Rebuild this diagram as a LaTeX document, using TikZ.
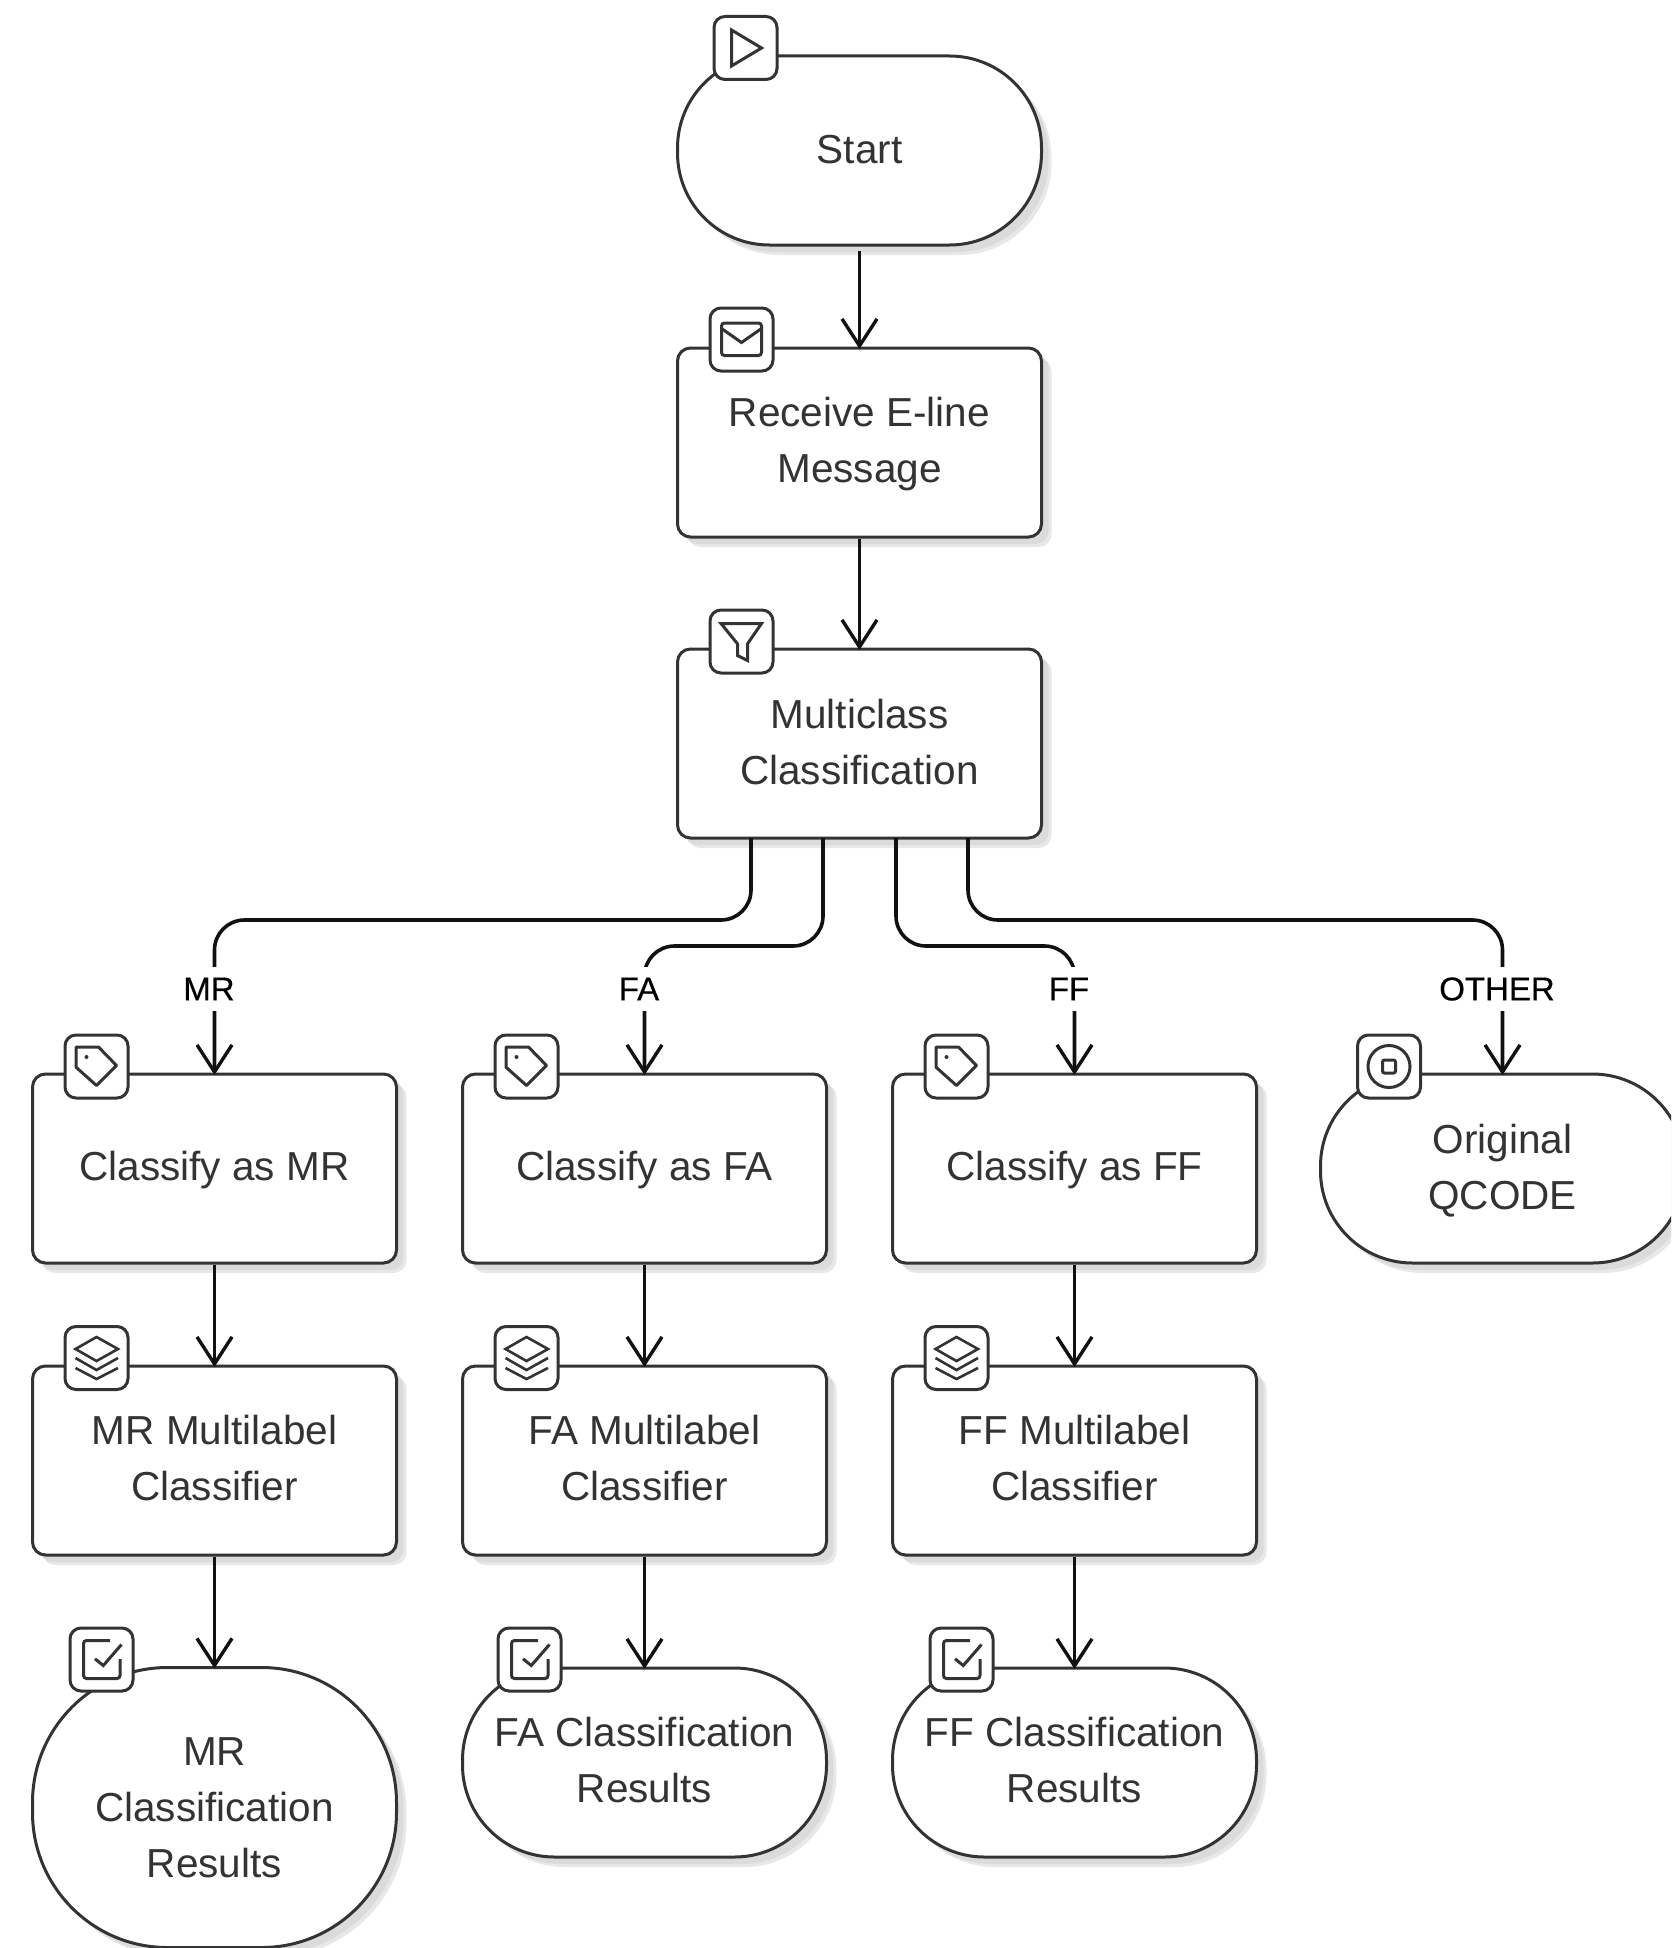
\documentclass[tikz,border=0pt]{standalone}
\usepackage{fontspec}
\setmainfont{Liberation Sans}
\newfontfamily\edgefont[FakeBold=0.4]{Liberation Sans}
\usetikzlibrary{arrows.meta,shadows,positioning}
\definecolor{ink}{HTML}{333333}
\definecolor{wire}{HTML}{111111}
\newcommand{\nudge}[2]{\raisebox{-#1pt}[\height][\depth]{#2}}
\tikzset{
  softshadow/.style={
    drop shadow={shadow xshift=10pt,shadow yshift=-10pt,fill=black!9,opacity=1},
    drop shadow={shadow xshift=7pt,shadow yshift=-7pt,fill=black!14,opacity=1}},
  card/.style={draw=ink,line width=3pt,fill=white,text=ink,softshadow,
    minimum width=364pt,minimum height=189pt,inner sep=0pt,align=center,
    font=\fontsize{40.5}{56}\selectfont},
  taskbox/.style={card,rounded corners=13pt},
  pill/.style={card,rounded corners=92pt},
  blob/.style={card,rounded corners=135pt,minimum height=280pt},
  iconbox/.style={draw=ink,line width=3pt,fill=white,rounded corners=11pt,
    minimum size=63pt,inner sep=0pt},
  glyph/.style={draw=ink,line width=3pt,line join=miter},
  flow/.style={draw=wire,line width=3.6pt,rounded corners=30pt,shorten >=-2.5pt,
    -{Straight Barb[length=27pt,width=35pt,line width=3.4pt]}},
  flowlabel/.style={fill=white,text=black,inner sep=0pt,minimum height=44pt,minimum width=20pt,
    font=\edgefont\fontsize{33}{36}\selectfont},
  iconplay/.pic={\draw[glyph] (-14,-18) -- (16,0) -- (-14,18) -- cycle;},
  iconmail/.pic={\draw[glyph,rounded corners=3pt] (-20,-16.5) rectangle (20,16);
    \draw[glyph] (-20,-11) -- (0,3) -- (20,-11);},
  iconfunnel/.pic={\draw[glyph] (-20.5,-18) -- (20,-18) -- (6,2.3) -- (6,19) -- (-4,14) -- (-4,2.3) -- cycle;},
  icontag/.pic={\draw[glyph,line join=round] (-20.5,-19.5) -- (2,-19.5) -- (20,-1) -- (0,19) -- (-20.5,0.7) -- cycle;
    \fill[ink] (-10,-9.5) circle (2pt);},
  iconlayers/.pic={\draw[glyph,line width=2.6pt] (0,-21) -- (21.5,-9) -- (0,3) -- (-21,-9) -- cycle;
    \draw[glyph,line width=2.6pt] (-21,0) -- (0,12) -- (21.5,0);
    \draw[glyph,line width=2.6pt] (-21,10) -- (0,21) -- (21.5,10);},
  iconcheck/.pic={\draw[glyph,rounded corners=3pt] (8.5,-19) -- (-18,-19) -- (-18,19) -- (18.5,19) -- (18.5,-0.5);
    \draw[glyph] (-6.5,-0.7) -- (1.8,6) -- (20,-15);},
  iconstop/.pic={\draw[glyph] (0,0) circle (21pt);
    \draw[glyph,rounded corners=2pt] (-6.5,-6.5) rectangle (6.5,6.5);},
}
\begin{document}
\begin{tikzpicture}[x=1pt,y=-1pt]
\useasboundingbox (0,0) rectangle (1671,1948);
\clip (0,0) rectangle (1671,1948);
% nodes
\node[pill] (start) at (859.5,150.5) {\nudge{-1}{Start}};
\node[taskbox] (recv) at (859.5,442.5) {\nudge{1.5}{Receive E-line}\\\nudge{1.5}{Message}};
\node[taskbox] (mc) at (859.5,743.5) {\nudge{-1.5}{Multiclass}\\\nudge{-1.5}{Classification}};
\node[taskbox] (cmr) at (214.5,1168.5) {\nudge{2}{Classify as MR}};
\node[taskbox] (cfa) at (644.5,1168.5) {\nudge{2}{Classify as FA}};
\node[taskbox] (cff) at (1074.5,1168.5) {\nudge{2}{Classify as FF}};
\node[pill] (qc) at (1502.5,1168.5) {\nudge{2}{Original}\\\nudge{2}{QCODE}};
\node[taskbox] (lmr) at (214.5,1460.5) {\nudge{-2.5}{MR Multilabel}\\\nudge{-2.5}{Classifier}};
\node[taskbox] (lfa) at (644.5,1460.5) {\nudge{-2.5}{FA Multilabel}\\\nudge{-2.5}{Classifier}};
\node[taskbox] (lff) at (1074.5,1460.5) {\nudge{-2.5}{FF Multilabel}\\\nudge{-2.5}{Classifier}};
\node[blob] (rmr) at (214.5,1807.5) {MR\\Classification\\Results};
\node[pill] (rfa) at (644.5,1762.5) {\nudge{-2.5}{FA Classification}\\\nudge{-2.5}{Results}};
\node[pill] (rff) at (1074.5,1762.5) {\nudge{-2.5}{FF Classification}\\\nudge{-2.5}{Results}};
% connector ends
\coordinate (startout) at (859.5,251);
\coordinate (mcA) at (751,838);
\coordinate (mcB) at (823,838);
\coordinate (mcC) at (896,838);
\coordinate (mcD) at (968,838);
\coordinate (busO) at (0,920);
\coordinate (busI) at (0,946);
% connectors
\draw[flow] (startout) -- (recv.north);
\draw[flow] (recv.south) -- (mc.north);
\draw[flow] (mcA) -- (mcA |- busO) -- (cmr |- busO) -- (cmr.north);
\draw[flow] (mcB) -- (mcB |- busI) -- (cfa |- busI) -- (cfa.north);
\draw[flow] (mcC) -- (mcC |- busI) -- (cff |- busI) -- (cff.north);
\draw[flow] (mcD) -- (mcD |- busO) -- (qc |- busO) -- (qc.north);
\draw[flow] (cmr.south) -- (lmr.north);
\draw[flow] (cfa.south) -- (lfa.north);
\draw[flow] (cff.south) -- (lff.north);
\draw[flow] (lmr.south) -- (rmr.north);
\draw[flow] (lfa.south) -- (rfa.north);
\draw[flow] (lff.south) -- (rff.north);
% connector labels
\node[flowlabel] (tmr) at (209,989) {MR};
\node[flowlabel] (tfa) at (639,989) {FA};
\node[flowlabel] (tff) at (1069,989) {FF};
\node[flowlabel] (tot) at (1497,989) {OTHER};
% icons
\node[iconbox] (i1) at (745.5,48) {}; \pic at (i1) {iconplay};
\node[iconbox] (i2) at (741.5,339.5) {}; \pic at (i2) {iconmail};
\node[iconbox] (i3) at (741.5,641.5) {}; \pic at (i3) {iconfunnel};
\node[iconbox] (i4) at (96.5,1066.5) {}; \pic at (i4) {icontag};
\node[iconbox] (i5) at (526.5,1066.5) {}; \pic at (i5) {icontag};
\node[iconbox] (i6) at (956.5,1066.5) {}; \pic at (i6) {icontag};
\node[iconbox] (i7) at (1389,1066.5) {}; \pic at (i7) {iconstop};
\node[iconbox] (i8) at (96.5,1358) {}; \pic at (i8) {iconlayers};
\node[iconbox] (i9) at (526.5,1358) {}; \pic at (i9) {iconlayers};
\node[iconbox] (i10) at (956.5,1358) {}; \pic at (i10) {iconlayers};
\node[iconbox] (i11) at (101.5,1659.5) {}; \pic at (i11) {iconcheck};
\node[iconbox] (i12) at (529.5,1659.5) {}; \pic at (i12) {iconcheck};
\node[iconbox] (i13) at (961.5,1659.5) {}; \pic at (i13) {iconcheck};
\end{tikzpicture}
\end{document}
